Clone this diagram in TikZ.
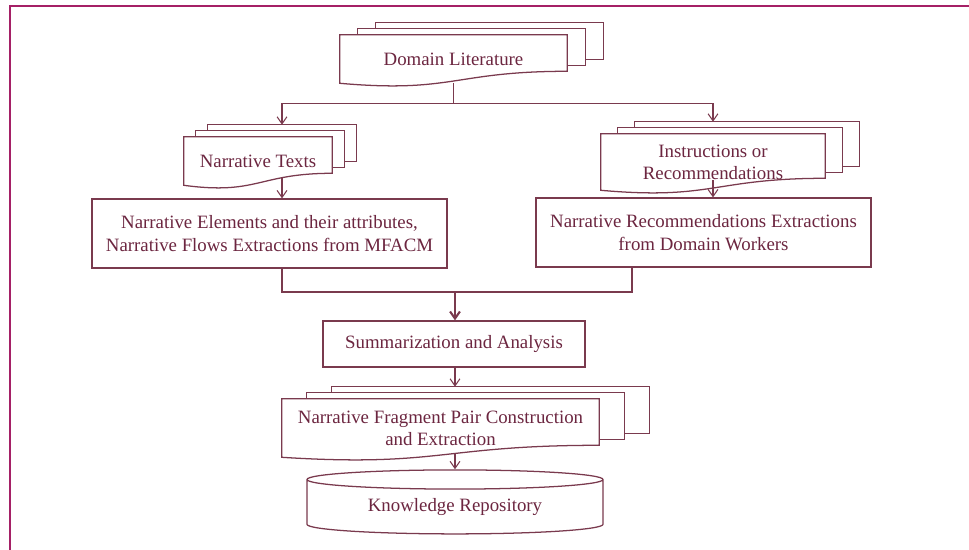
\documentclass[tikz,border=0pt]{standalone}
\usepackage{fontspec}
\setmainfont{Liberation Serif}
\usetikzlibrary{
    positioning,
    backgrounds,
    shapes.geometric,
    arrows.meta,
    calc
    }
\definecolor{framered}{RGB}{165,32,102}
\definecolor{edgered}{RGB}{122,58,78}
\definecolor{inkred}{RGB}{108,38,64}

\begin{document}
\begin{tikzpicture}[font=\fontsize{13.4}{15.8}\selectfont]
\tikzset{framed/.style =
        {
            framered,
            line width=2.1pt
        }
}

\tikzset{page/.style =
        {
            edgered,
            line width=0.9pt,
            fill=white
        }
}

\tikzset{doc/.style =
        {
            rectangle,
            text=inkred,
            align=center,
            inner sep=0pt
        }
}

\tikzset{box/.style =
        {
            rectangle,
            draw=edgered,
            line width=0.9pt,
            fill=white,
            text=inkred,
            align=center,
            inner sep=0pt
        }
}

\tikzset{store/.style =
        {
            box,
            cylinder,
            shape border rotate=90,
            aspect=0.11
        }
}

\tikzset{link/.style = {
            edgered,
            line width=0.75pt,
            -{Straight Barb[length=5pt,width=7pt]}
        }
}

		\useasboundingbox (0,0) rectangle (24.225,-13.725);
		\draw[framed] (0.25,-13.8) -- (0.25,-0.15) -- (24.3,-0.15);

		\node[doc, minimum width=5.675cm, minimum height=1.2cm] (lit) at (11.3375,-1.475) {Domain Literature};
		\node[doc, minimum width=3.7cm, minimum height=1.2cm] (texts) at (6.45,-4.025) {Narrative Texts};
		\node[doc, minimum width=5.6cm, minimum height=1.4cm] (instr) at (17.825,-4.05) {Instructions or\\Recommendations};

		\node[box, minimum width=8.875cm, minimum height=1.725cm] (elems) at (6.7375,-5.8375)
			{Narrative Elements and their attributes,\\Narrative Flows Extractions from MFACM};
		\node[box, minimum width=8.375cm, minimum height=1.725cm] (recs) at (17.5875,-5.8125)
			{Narrative Recommendations Extractions\\from Domain Workers};
		\node[box, minimum width=6.55cm, minimum height=1.15cm] (summ) at (11.35,-8.6) {Summarization and Analysis};

		\node[doc, minimum width=7.925cm, minimum height=1.45cm] (pair) at (11.0125,-10.7)
			{Narrative Fragment Pair Construction\\and Extraction};
		\node[store, minimum width=7.4cm, minimum height=1.6cm] (repo) at (11.375,-12.675)
			{\raisebox{-0.12cm}{Knowledge Repository}};

		\begin{scope}[on background layer]
			\foreach \sheet / \off in
				{lit/0.45,
					texts/0.3,
					instr/0.425,
					pair/0.625}
				{
					\foreach \k in {2,1}
					\draw[page] ($(\sheet.north west)+(\k*\off,\k*0.15)$) rectangle ($(\sheet.south east)+(\k*\off,\k*0.15+0.3)$);
					\draw[page] (\sheet.north west) -- (\sheet.north east) -- ($(\sheet.south east)+(0,0.3)$)
					.. controls ($(\sheet.south)+(0,0.3)$) and ($(\sheet.south)+(0,-0.25)$) .. (\sheet.south west) -- cycle;
				}
		\end{scope}

		\coordinate (lcol) at (7.05,0);
		\coordinate (rcol) at (17.825,0);
		\coordinate (mcol) at (15.8,0);
		\coordinate (join) at (11.375,-7.3);
		\path (lit.south) ++(0,-0.5) coordinate (fork);

		\draw[link, -] (lit.south) -- (fork);
		\draw[link] (fork) -| ($(texts.north -| lcol)+(0,0.3)$);
		\draw[link] (fork) -| ($(instr.north -| rcol)+(0,0.3)$);
		\draw[link] ($(texts.south -| lcol)+(0,0.18)$) -- (elems.north -| lcol);
		\draw[link] ($(instr.south -| rcol)+(0,0.25)$) -- (recs.north -| rcol);
		\draw[link, -] (elems.south -| lcol) |- (join);
		\draw[link, -] (recs.south -| mcol) |- (join);
		\draw[link, line width=1.5pt] (join) -- (summ.north -| join);
		\draw[link] (summ.south -| join) -- ($(pair.north -| join)+(0,0.3)$);
		\draw[link] ($(pair.south -| join)+(0,0.1)$) -- (repo.north -| join);

	\end{tikzpicture}
\end{document}
